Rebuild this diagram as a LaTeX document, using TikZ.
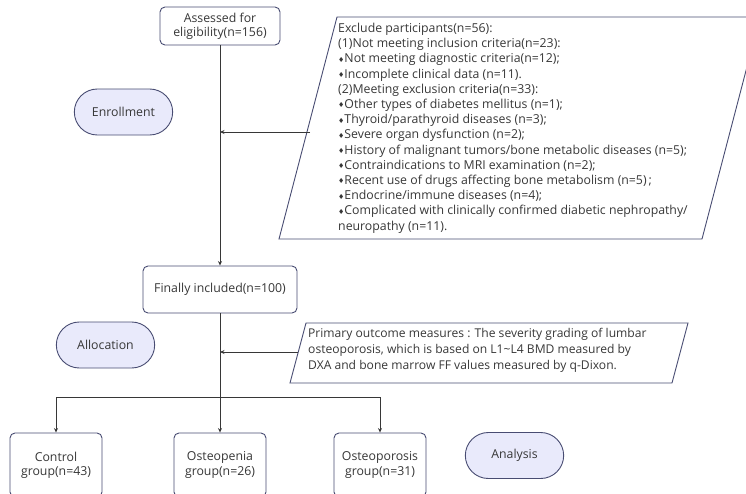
\documentclass[tikz,border=0pt]{standalone}
\usepackage{fontspec}
\setmainfont{Open Sans}
\newfontfamily\symfont{DejaVu Sans}
\usepackage{tikz}
\usetikzlibrary{arrows.meta,shapes.misc}
\definecolor{framecol}{RGB}{72,76,114}
\definecolor{phasefill}{RGB}{233,234,251}
\definecolor{inkcol}{RGB}{55,55,55}
\newcommand{\dia}{{\symfont\fontsize{7}{7}\selectfont\raisebox{0.6pt}{♦}}}

\begin{document}
\begin{tikzpicture}[x=1pt,y=-1pt,auto,font=\fontsize{12.3}{14.1}\selectfont]

%
% Styles
%
\tikzstyle{box} = [rectangle,rounded corners=5pt,draw=framecol,line width=0.9pt,fill=white,text=inkcol,align=center,inner sep=2pt]
\tikzstyle{phase} = [rounded rectangle,draw=framecol,line width=0.9pt,fill=phasefill,text=inkcol,minimum width=105,minimum height=46]
\tikzstyle{frame} = [draw=framecol,line width=0.9pt]
\tikzstyle{note} = [text=inkcol,align=left,anchor=north west,inner sep=0pt]
\tikzstyle{link} = [draw=inkcol,line width=0.8pt,-{Stealth[length=4.5pt,width=4pt]}]

\useasboundingbox (0,0) rectangle (746,493);

% main column
\node[box,minimum width=120,minimum height=38] (assess) at (220,26) {Assessed for\\eligibility(n=156)};
\node[box,minimum width=154,minimum height=47] (final) at (220,289.5) {Finally included(n=100)};
\node[box,minimum width=92,minimum height=64] (control) at ( 56,465) {Control\\group(n=43)};
\node[box,minimum width=92,minimum height=64] (penia) at (220,465) {Osteopenia\\group(n=26)};
\node[box,minimum width=92,minimum height=64] (porosis) at (380,465) {Osteoporosis\\group(n=31)};

% stages
\node[phase] (enroll) at (123.5,112) {Enrollment};
\node[phase] (alloc) at (105.5,345) {Allocation};
\node[phase] (analysis) at (514.5,455.5) {Analysis};

% exclusion
\draw[frame] (279,239) -- (337,17) -- (760,17) -- (702,239) -- cycle;
\node[note,font=\fontsize{12.3}{15.2}\selectfont] (excl) at (338,23) {Exclude participants(n=56):\\
(1)Not meeting inclusion criteria(n=23):\\
\dia Not meeting diagnostic criteria(n=12);\\
\dia Incomplete clinical data (n=11).\\
(2)Meeting exclusion criteria(n=33):\\
\dia Other types of diabetes mellitus (n=1);\\
\dia Thyroid/parathyroid diseases (n=3);\\
\dia Severe organ dysfunction (n=2);\\
\dia History of malignant tumors/bone metabolic diseases (n=5);\\
\dia Contraindications to MRI examination (n=2);\\
\dia Recent use of drugs affecting bone metabolism (n=5)\,;\\
\dia Endocrine/immune diseases (n=4);\\
\dia Complicated with clinically confirmed diabetic nephropathy/\\
neuropathy (n=11).};
\coordinate (exclin) at (310,132);

% outcome
\draw[frame] (290,383) -- (306,323) -- (688,323) -- (672,383) -- cycle;
\node[note,font=\fontsize{12.1}{15.8}\selectfont] (primary) at (308,328.5) {Primary outcome measures : The severity grading of lumbar\\
osteoporosis, which is based on L1\char`~L4 BMD measured by\\
DXA and bone marrow FF values measured by q-Dixon.};
\coordinate (primin) at (298,352);

% connectors
\coordinate (split) at (220,397);
\draw[link] (assess) -- (final);
\draw[link] (exclin) -- (exclin -| final);
\draw[link] (primin) -- (primin -| final);
\draw[link,-] (final) -- (split);
\draw[link] (split) -- (penia);
\draw[link] (split) -| (control);
\draw[link] (split) -| (porosis);

\end{tikzpicture}
\end{document}
